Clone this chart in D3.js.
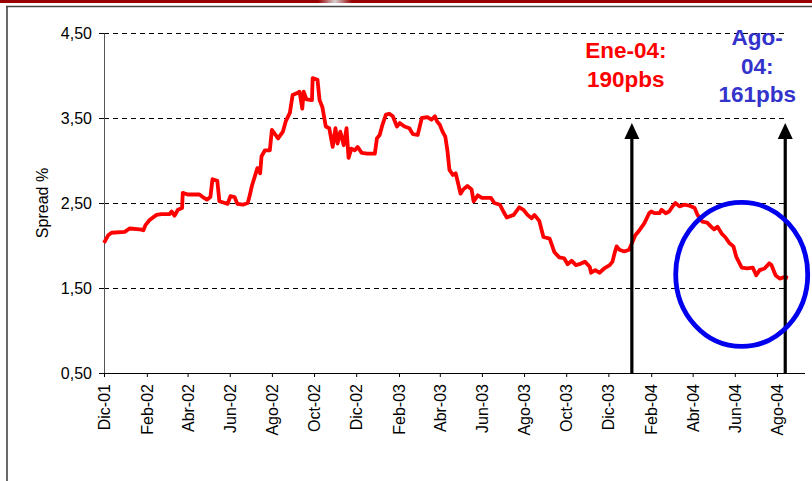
<!DOCTYPE html>
<html>
<head>
<meta charset="utf-8">
<script src="https://cdn.jsdelivr.net/npm/d3@7"></script>
<style>
  body { margin: 0; background: #fff; }
  svg { display: block; font-family: Arial, "Liberation Sans", sans-serif; }
</style>
</head>
<body>
<div id="chart"></div>
<script>
// spread series (daily series, % points)
const dates = [
  "2001-12-01","2001-12-07","2001-12-12","2001-12-31","2002-01-07","2002-01-22","2002-01-27","2002-01-30",
  "2002-02-05","2002-02-15","2002-02-22","2002-03-06","2002-03-09","2002-03-13","2002-03-18","2002-03-24",
  "2002-03-25","2002-04-01","2002-04-18","2002-04-23","2002-04-29","2002-05-04","2002-05-07","2002-05-14",
  "2002-05-17","2002-05-25","2002-05-29","2002-06-02","2002-06-08","2002-06-12","2002-06-20","2002-06-27",
  "2002-06-30","2002-07-03","2002-07-11","2002-07-15","2002-07-17","2002-07-22","2002-07-29","2002-08-01",
  "2002-08-10","2002-08-17","2002-08-21","2002-08-27","2002-08-31","2002-09-06","2002-09-10","2002-09-14",
  "2002-09-16","2002-09-20","2002-09-28","2002-09-29","2002-10-06","2002-10-09","2002-10-13","2002-10-18",
  "2002-10-23","2002-10-28","2002-11-01","2002-11-04","2002-11-08","2002-11-13","2002-11-17","2002-11-20",
  "2002-11-24","2002-11-29","2002-12-03","2002-12-09","2002-12-17","2002-12-28","2002-12-31","2003-01-04",
  "2003-01-08","2003-01-13","2003-01-18","2003-01-23","2003-01-29","2003-02-02","2003-02-09","2003-02-16",
  "2003-02-21","2003-02-28","2003-03-06","2003-03-14","2003-03-20","2003-03-25","2003-03-28","2003-04-01",
  "2003-04-05","2003-04-09","2003-04-12","2003-04-15","2003-04-20","2003-04-24","2003-04-27","2003-05-01",
  "2003-05-05","2003-05-11","2003-05-17","2003-05-20","2003-05-26","2003-06-01","2003-06-14","2003-06-19",
  "2003-06-27","2003-07-02","2003-07-07","2003-07-17","2003-07-25","2003-07-31","2003-08-06","2003-08-12",
  "2003-08-16","2003-08-23","2003-08-29","2003-09-07","2003-09-14","2003-09-21","2003-09-28","2003-10-03",
  "2003-10-09","2003-10-15","2003-10-20","2003-10-28","2003-11-04","2003-11-06","2003-11-12","2003-11-18",
  "2003-11-25","2003-12-03","2003-12-07","2003-12-10","2003-12-13","2003-12-17","2003-12-24","2003-12-31",
  "2004-01-09","2004-01-15","2004-01-22","2004-01-29","2004-02-01","2004-02-06","2004-02-13","2004-02-16",
  "2004-02-22","2004-02-27","2004-03-03","2004-03-07","2004-03-13","2004-03-20","2004-03-27","2004-04-04",
  "2004-04-08","2004-04-15","2004-04-22","2004-04-28","2004-05-02","2004-05-07","2004-05-13","2004-05-18",
  "2004-05-24","2004-05-30","2004-06-03","2004-06-11","2004-06-19","2004-06-27","2004-07-02","2004-07-07",
  "2004-07-14","2004-07-21","2004-07-24","2004-07-30","2004-08-05","2004-08-12","2004-08-17"
];
const spread = [
  2.03,2.12,2.15,2.16,2.20,2.19,2.18,2.24,
  2.30,2.36,2.37,2.37,2.40,2.35,2.42,2.44,
  2.62,2.60,2.60,2.57,2.54,2.57,2.78,2.76,
  2.52,2.50,2.49,2.58,2.57,2.49,2.48,2.50,
  2.59,2.70,2.91,2.85,3.05,3.12,3.12,3.36,
  3.26,3.34,3.46,3.56,3.77,3.79,3.81,3.61,
  3.81,3.72,3.71,3.97,3.95,3.71,3.63,3.40,
  3.38,3.16,3.38,3.20,3.34,3.18,3.38,3.03,
  3.14,3.12,3.16,3.09,3.08,3.08,3.26,3.30,
  3.42,3.54,3.55,3.52,3.40,3.44,3.40,3.38,
  3.31,3.30,3.50,3.51,3.48,3.52,3.46,3.42,
  3.34,3.28,3.12,2.89,2.83,2.85,2.75,2.61,
  2.66,2.70,2.66,2.52,2.59,2.56,2.56,2.50,
  2.48,2.40,2.33,2.36,2.45,2.42,2.36,2.32,
  2.36,2.29,2.10,2.08,1.92,1.86,1.85,1.78,
  1.82,1.77,1.78,1.81,1.75,1.68,1.71,1.68,
  1.73,1.77,1.81,1.91,1.99,1.95,1.93,1.95,
  2.12,2.18,2.26,2.38,2.40,2.38,2.38,2.42,
  2.38,2.40,2.46,2.50,2.46,2.48,2.47,2.44,
  2.36,2.28,2.27,2.22,2.19,2.22,2.14,2.10,
  2.03,1.99,1.87,1.74,1.73,1.74,1.65,1.71,
  1.73,1.79,1.77,1.65,1.61,1.63,1.62
];

// axis ticks
const tickDates = ["2001-12-01","2002-02-01","2002-04-01","2002-06-01","2002-08-01","2002-10-01",
  "2002-12-01","2003-02-01","2003-04-01","2003-06-01","2003-08-01","2003-10-01",
  "2003-12-01","2004-02-01","2004-04-01","2004-06-01","2004-08-01"];
const tickLabels = ["Dic-01","Feb-02","Abr-02","Jun-02","Ago-02","Oct-02","Dic-02","Feb-03","Abr-03",
  "Jun-03","Ago-03","Oct-03","Dic-03","Feb-04","Abr-04","Jun-04","Ago-04"];
const yTicks = [0.5, 1.5, 2.5, 3.5, 4.5];

// annotations
const arrowDates = ["2004-01-04", "2004-08-13"];
const arrowTop = 3.44;
const noteEne = ["Ene-04:", "190pbs"];
const noteAgo = ["Ago-", "04:", "161pbs"];
const circleDate = "2004-06-11", circleValue = 1.66;

const W = 812, H = 481;
const parse = d3.utcParse("%Y-%m-%d");
const data = dates.map((d, i) => ({date: parse(d), value: spread[i]}));

const svg = d3.select("#chart").append("svg")
  .attr("width", W).attr("height", H);

// slide frame
svg.append("rect").attr("x", 0).attr("y", 0).attr("width", W).attr("height", 3).attr("fill", "#990000");
const grad = svg.append("defs").append("linearGradient").attr("id", "shine");
grad.append("stop").attr("offset", "0%").attr("stop-color", "#990000");
grad.append("stop").attr("offset", "50%").attr("stop-color", "#d8d0d0");
grad.append("stop").attr("offset", "100%").attr("stop-color", "#990000");
svg.append("rect").attr("x", 318).attr("y", 0).attr("width", 34).attr("height", 3).attr("fill", "url(#shine)");
svg.append("line").attr("x1", 6).attr("x2", W).attr("y1", 6.5).attr("y2", 6.5)
  .attr("stroke", "#444").attr("stroke-width", 1.6);
svg.append("line").attr("x1", 7).attr("x2", 7).attr("y1", 6).attr("y2", H)
  .attr("stroke", "#444").attr("stroke-width", 1.6);

const x = d3.scaleUtc()
  .domain([parse("2001-12-01"), parse("2004-08-17")])
  .range([104, 788]);
const y = d3.scaleLinear()
  .domain([0.5, 4.5])
  .range([373, 33]);

// dashed grid
svg.append("g").selectAll("line")
  .data(yTicks.slice(1))
  .join("line")
    .attr("x1", x.range()[0]).attr("x2", x.range()[1])
    .attr("y1", d => y(d) + 0.5).attr("y2", d => y(d) + 0.5)
    .attr("stroke", "#000").attr("stroke-width", 1)
    .attr("stroke-dasharray", "5,4");

// y axis
const yAxis = svg.append("g")
  .attr("transform", `translate(${x.range()[0]},0)`)
  .call(d3.axisLeft(y).tickValues(yTicks)
    .tickFormat(d => d3.format(".2f")(d).replace(".", ","))
    .tickSize(5).tickSizeOuter(0).tickPadding(7));
yAxis.select(".domain").attr("stroke", "#555");
yAxis.selectAll("text").style("font-size", "16px").attr("fill", "#000");

// x axis
const xAxis = svg.append("g")
  .attr("transform", `translate(0,${y(0.5)})`)
  .call(d3.axisBottom(x).tickValues(tickDates.map(parse))
    .tickFormat((d, i) => tickLabels[i])
    .tickSize(4).tickSizeOuter(0));
xAxis.select(".domain").attr("d", `M${x.range()[0]},0.5H805`).attr("stroke", "#000");
xAxis.selectAll("text")
  .style("font-size", "16px").attr("fill", "#000")
  .attr("text-anchor", "end")
  .attr("transform", "rotate(-90)")
  .attr("x", -11).attr("y", 0).attr("dy", "0.35em");

// y axis label
svg.append("text")
  .attr("transform", `translate(48,${y(2.5)}) rotate(-90)`)
  .attr("text-anchor", "middle")
  .style("font-size", "16px")
  .text("Spread %");

// spread line
svg.append("path")
  .datum(data)
  .attr("fill", "none")
  .attr("stroke", "#ff0000")
  .attr("stroke-width", 3.8)
  .attr("stroke-linejoin", "round")
  .attr("d", d3.line().x(d => x(d.date)).y(d => y(d.value)));

// arrows
arrowDates.forEach(d => {
  const ax = x(parse(d)), top = y(arrowTop);
  svg.append("line")
    .attr("x1", ax).attr("x2", ax)
    .attr("y1", y(0.5) + 1).attr("y2", top + 12)
    .attr("stroke", "#000").attr("stroke-width", 3.2);
  svg.append("path")
    .attr("d", `M${ax},${top}L${ax + 7.5},${top + 16}L${ax - 7.5},${top + 16}Z`)
    .attr("fill", "#000");
});

// circle round the last months
svg.append("ellipse")
  .attr("cx", x(parse(circleDate))).attr("cy", y(circleValue))
  .attr("rx", 66).attr("ry", 72)
  .attr("fill", "none").attr("stroke", "#0000ee").attr("stroke-width", 4.8);

// notes
const a1 = x(parse(arrowDates[0])), a2 = x(parse(arrowDates[1]));
svg.append("text")
  .attr("text-anchor", "middle").attr("fill", "#ff0000")
  .style("font-size", "22.5px").style("font-weight", "bold")
  .selectAll("tspan").data(noteEne).join("tspan")
    .attr("x", a1 - 6).attr("y", (d, i) => 58 + i * 28.5)
    .text(d => d);
svg.append("text")
  .attr("text-anchor", "middle").attr("fill", "#3333cc")
  .style("font-size", "22.5px").style("font-weight", "bold")
  .selectAll("tspan").data(noteAgo).join("tspan")
    .attr("x", a2 - 28).attr("y", (d, i) => 45 + i * 28.5)
    .text(d => d);
</script>
</body>
</html>
